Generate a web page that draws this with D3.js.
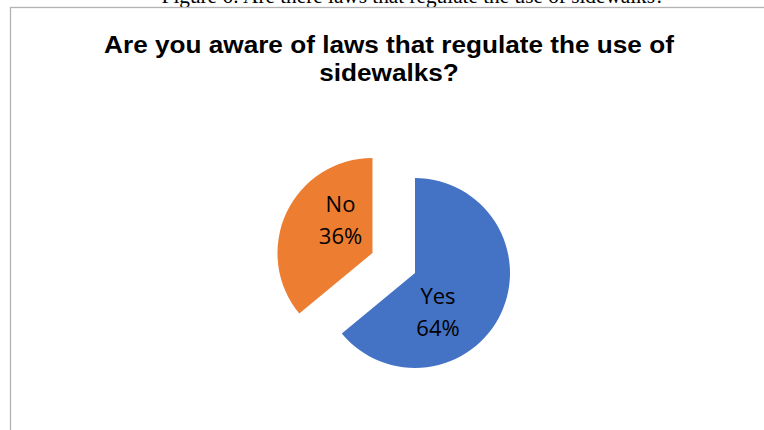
<!DOCTYPE html>
<html>
<head>
<meta charset="utf-8">
<script src="https://cdn.jsdelivr.net/npm/d3@7"></script>
<style>
  html, body { margin: 0; padding: 0; background: #ffffff; }
  svg { display: block; }
</style>
</head>
<body>
<svg id="chart" width="764" height="430"></svg>
<script>
const categories = ["Yes", "No"];
const values = [64, 36];
const colors = ["#4472C4", "#ED7D31"];
const explode = [0, 47];
const labelShift = [[-20, 18], [11, -14]];
const caption = "Figure 6: Are there laws that regulate the use of sidewalks?";
const titleLines = ["Are you aware of laws that regulate the use of", "sidewalks?"];

const svg = d3.select("#chart");

// caption (cut off by frame top)
const cap = svg.append("text")
  .attr("x", 413).attr("y", 3)
  .attr("text-anchor", "middle")
  .attr("font-family", "'Liberation Serif', 'Times New Roman', serif")
  .attr("font-size", 21)
  .attr("fill", "#000")
  .text(caption);
const capW = cap.node().getComputedTextLength();
const capScale = 503 / capW;
cap.attr("transform", `translate(413,0) scale(${capScale},1) translate(-413,0)`);

// chart frame
svg.append("rect")
  .attr("x", 10.5).attr("y", 7.5)
  .attr("width", 800).attr("height", 500)
  .attr("fill", "#fff")
  .attr("stroke", "#b3b3b3").attr("stroke-width", 1.3);

// title
const tcx = 389;
const title = svg.append("text")
  .attr("x", tcx).attr("y", 53)
  .attr("text-anchor", "middle")
  .attr("font-family", "'Liberation Sans', Arial, sans-serif")
  .attr("font-weight", "bold")
  .attr("font-size", 23.5)
  .attr("fill", "#000");
const tspans = title.selectAll("tspan").data(titleLines).enter().append("tspan")
  .attr("x", tcx)
  .attr("dy", (d, i) => i === 0 ? 0 : 28)
  .text(d => d);
const w1 = tspans.nodes()[0].getComputedTextLength();
const tScale = 570 / w1;
title.attr("transform", `translate(${tcx},0) scale(${tScale},1) translate(${-tcx},0)`);

const cx = 415, cy = 273, r = 95;
const pie = d3.pie().sort(null).value(d => d.value).startAngle(0).endAngle(2 * Math.PI);
const data = categories.map((c, i) => ({ cat: c, value: values[i], i }));
const arcs = pie(data);
const arc = d3.arc().innerRadius(0).outerRadius(r);
const total = d3.sum(values);

const g = svg.append("g").attr("transform", `translate(${cx},${cy})`);

const slices = g.selectAll("g.slice").data(arcs).enter().append("g")
  .attr("class", "slice")
  .attr("transform", d => {
    const mid = (d.startAngle + d.endAngle) / 2;
    const e = explode[d.data.i];
    return `translate(${Math.sin(mid) * e},${-Math.cos(mid) * e})`;
  });

slices.append("path")
  .attr("d", arc)
  .attr("fill", d => colors[d.data.i]);

const fmt = d3.format(".0%");
slices.each(function(d) {
  const c = arc.centroid(d);
  const s = labelShift[d.data.i];
  const t = d3.select(this).append("text")
    .attr("text-anchor", "middle")
    .attr("font-family", "'Open Sans', 'Noto Sans', sans-serif")
    .attr("font-size", 22)
    .attr("fill", "#000");
  t.append("tspan").attr("x", c[0] + s[0]).attr("y", c[1] + s[1] - 7).text(d.data.cat);
  t.append("tspan").attr("x", c[0] + s[0]).attr("y", c[1] + s[1] + 25).text(fmt(d.data.value / total));
});
</script>
</body>
</html>
